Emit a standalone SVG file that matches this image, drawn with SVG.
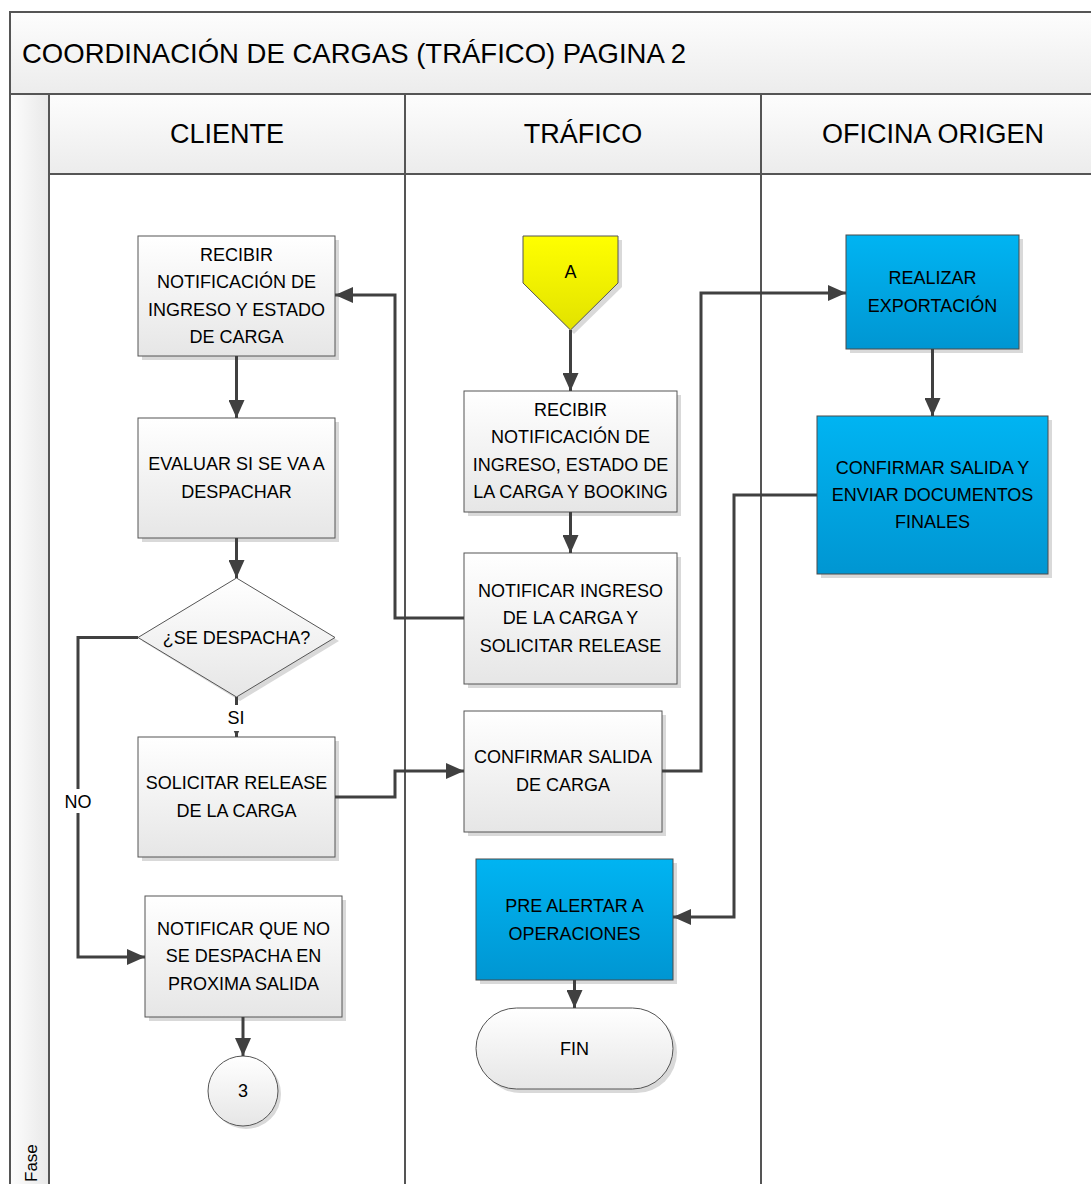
<svg xmlns="http://www.w3.org/2000/svg" width="1091" height="1184" viewBox="0 0 1091 1184">
  <defs>
    <linearGradient id="gGray" x1="0" y1="0" x2="0" y2="1">
      <stop offset="0" stop-color="#ffffff"/>
      <stop offset="1" stop-color="#e6e6e6"/>
    </linearGradient>
    <linearGradient id="gHead" x1="0" y1="0" x2="0" y2="1">
      <stop offset="0" stop-color="#fdfdfd"/>
      <stop offset="1" stop-color="#ececec"/>
    </linearGradient>
    <linearGradient id="gSide" x1="0" y1="0" x2="1" y2="0">
      <stop offset="0" stop-color="#fdfdfd"/>
      <stop offset="1" stop-color="#e8e8e8"/>
    </linearGradient>
    <linearGradient id="gBlue" x1="0" y1="0" x2="0" y2="1">
      <stop offset="0" stop-color="#00b4f2"/>
      <stop offset="1" stop-color="#0096d2"/>
    </linearGradient>
    <linearGradient id="gYellow" x1="0" y1="0" x2="0" y2="1">
      <stop offset="0" stop-color="#ffff00"/>
      <stop offset="1" stop-color="#e2e200"/>
    </linearGradient>
    <marker id="arrow" viewBox="0 0 18 16" refX="18" refY="8" markerWidth="18" markerHeight="16" markerUnits="userSpaceOnUse" orient="auto">
      <path d="M0,0 L18,8 L0,16 Z" fill="#404040"/>
    </marker>
  </defs>
  <style>
    text { font-family: "Liberation Sans", Arial, sans-serif; fill: #000; }
    .t { font-size: 18px; text-anchor: middle; }
    .hd { font-size: 27px; text-anchor: middle; }
    .box { fill: url(#gGray); stroke: #555; stroke-width: 1; }
    .blue { fill: url(#gBlue); stroke: #4a4a4a; stroke-width: 1; }
    .sh { fill: #d9d9d9; }
    .frame { stroke: #555; stroke-width: 2; }
    .conn { fill: none; stroke: #404040; stroke-width: 3; marker-end: url(#arrow); }
    .lbl { fill: #fff; }
  </style>

  <rect width="1091" height="1184" fill="#fff"/>

  <!-- pool frame, title band and lanes -->
  <g id="pool">
    <rect x="10" y="12" width="1090" height="82" fill="url(#gHead)" class="frame"/>
    <text x="22" y="63" font-size="27.5">COORDINACIÓN DE CARGAS (TRÁFICO) PAGINA 2</text>
    <rect x="10" y="94" width="39" height="1100" fill="url(#gSide)" class="frame"/>
    <text transform="translate(37,1182) rotate(-90)" font-size="17">Fase</text>
    <rect x="49" y="94" width="356" height="80" fill="url(#gHead)" class="frame"/>
    <rect x="405" y="94" width="356" height="80" fill="url(#gHead)" class="frame"/>
    <rect x="761" y="94" width="340" height="80" fill="url(#gHead)" class="frame"/>
    <text class="hd" x="227" y="143">CLIENTE</text>
    <text class="hd" x="583" y="143">TRÁFICO</text>
    <text class="hd" x="933" y="143">OFICINA ORIGEN</text>
    <line x1="405" y1="174" x2="405" y2="1190" class="frame"/>
    <line x1="761" y1="174" x2="761" y2="1190" class="frame"/>
  </g>

  <!-- CLIENTE lane -->
  <g id="n-recibir-cliente">
    <rect class="sh" x="142" y="240" width="197" height="120"/>
    <rect class="box" x="138" y="236" width="197" height="120"/>
    <text class="t" x="236.5" y="261">RECIBIR</text>
    <text class="t" x="236.5" y="288">NOTIFICACIÓN DE</text>
    <text class="t" x="236.5" y="316">INGRESO Y ESTADO</text>
    <text class="t" x="236.5" y="343">DE CARGA</text>
  </g>
  <g id="n-evaluar">
    <rect class="sh" x="142" y="422" width="197" height="120"/>
    <rect class="box" x="138" y="418" width="197" height="120"/>
    <text class="t" x="236.5" y="470">EVALUAR SI SE VA A</text>
    <text class="t" x="236.5" y="498">DESPACHAR</text>
  </g>
  <g id="n-se-despacha">
    <polygon class="sh" points="240,582 339,641 240,701 142,641"/>
    <polygon class="box" points="236.5,578 335,637.5 236.5,697 138,637.5"/>
    <text class="t" x="236.5" y="644">¿SE DESPACHA?</text>
  </g>
  <g id="n-solicitar-release">
    <rect class="sh" x="142" y="741" width="197" height="120"/>
    <rect class="box" x="138" y="737" width="197" height="120"/>
    <text class="t" x="236.5" y="789">SOLICITAR RELEASE</text>
    <text class="t" x="236.5" y="817">DE LA CARGA</text>
  </g>
  <g id="n-notificar-no">
    <rect class="sh" x="149" y="900" width="197" height="121"/>
    <rect class="box" x="145" y="896" width="197" height="121"/>
    <text class="t" x="243.5" y="935">NOTIFICAR QUE NO</text>
    <text class="t" x="243.5" y="962">SE DESPACHA EN</text>
    <text class="t" x="243.5" y="990">PROXIMA SALIDA</text>
  </g>
  <g id="n-conector-3">
    <circle class="sh" cx="246" cy="1094" r="35"/>
    <circle class="box" cx="243" cy="1091" r="35"/>
    <text class="t" x="243" y="1097">3</text>
  </g>

  <!-- TRÁFICO lane -->
  <g id="n-conector-a">
    <polygon class="sh" points="527,240 622,240 622,287 574,334 527,287"/>
    <polygon points="523,236 618,236 618,283 570.5,330 523,283" fill="url(#gYellow)" stroke="#555" stroke-width="1"/>
    <text class="t" x="570.5" y="278">A</text>
  </g>
  <g id="n-recibir-trafico">
    <rect class="sh" x="468" y="395" width="213" height="121"/>
    <rect class="box" x="464" y="391" width="213" height="121"/>
    <text class="t" x="570.5" y="416">RECIBIR</text>
    <text class="t" x="570.5" y="443">NOTIFICACIÓN DE</text>
    <text class="t" x="570.5" y="471">INGRESO, ESTADO DE</text>
    <text class="t" x="570.5" y="498">LA CARGA Y BOOKING</text>
  </g>
  <g id="n-notificar-ingreso">
    <rect class="sh" x="468" y="557" width="213" height="131"/>
    <rect class="box" x="464" y="553" width="213" height="131"/>
    <text class="t" x="570.5" y="597">NOTIFICAR INGRESO</text>
    <text class="t" x="570.5" y="624">DE LA CARGA Y</text>
    <text class="t" x="570.5" y="652">SOLICITAR RELEASE</text>
  </g>
  <g id="n-confirmar-salida">
    <rect class="sh" x="468" y="715" width="198" height="121"/>
    <rect class="box" x="464" y="711" width="198" height="121"/>
    <text class="t" x="563" y="763">CONFIRMAR SALIDA</text>
    <text class="t" x="563" y="791">DE CARGA</text>
  </g>
  <g id="n-pre-alertar">
    <rect class="sh" x="480" y="863" width="197" height="121"/>
    <rect class="blue" x="476" y="859" width="197" height="121"/>
    <text class="t" x="574.5" y="912">PRE ALERTAR A</text>
    <text class="t" x="574.5" y="940">OPERACIONES</text>
  </g>
  <g id="n-fin">
    <rect class="sh" x="480" y="1012" width="197" height="81" rx="40.5"/>
    <rect class="box" x="476" y="1008" width="197" height="81" rx="40.5"/>
    <text class="t" x="574.5" y="1055">FIN</text>
  </g>

  <!-- OFICINA ORIGEN lane -->
  <g id="n-realizar-exportacion">
    <rect class="sh" x="850" y="239" width="173" height="114"/>
    <rect class="blue" x="846" y="235" width="173" height="114"/>
    <text class="t" x="932.5" y="284">REALIZAR</text>
    <text class="t" x="932.5" y="312">EXPORTACIÓN</text>
  </g>
  <g id="n-confirmar-documentos">
    <rect class="sh" x="821" y="420" width="231" height="158"/>
    <rect class="blue" x="817" y="416" width="231" height="158"/>
    <text class="t" x="932.5" y="474">CONFIRMAR SALIDA Y</text>
    <text class="t" x="932.5" y="501">ENVIAR DOCUMENTOS</text>
    <text class="t" x="932.5" y="528">FINALES</text>
  </g>

  <!-- connectors -->
  <g id="connectors">
    <path class="conn" d="M236.5,356 V418"/>
    <path class="conn" d="M236.5,538 V578"/>
    <path class="conn" d="M236.5,697 V737"/>
    <path class="conn" d="M138,637.5 H78 V957 H145"/>
    <path class="conn" d="M243,1017 V1056"/>
    <path class="conn" d="M464,618 H395 V295 H335"/>
    <path class="conn" d="M570.5,330 V391"/>
    <path class="conn" d="M570.5,512 V553"/>
    <path class="conn" d="M335,797 H395 V771 H464"/>
    <path class="conn" d="M662,771 H701 V293 H846"/>
    <path class="conn" d="M932.5,349 V416"/>
    <path class="conn" d="M817,495 H734 V917 H673"/>
    <path class="conn" d="M574.5,980 V1008"/>
    <!-- branch labels -->
    <rect class="lbl" x="224" y="705" width="22" height="26"/>
    <text class="t" x="236" y="724">SI</text>
    <rect class="lbl" x="62" y="789" width="32" height="24"/>
    <text class="t" x="78" y="808">NO</text>
  </g>
</svg>
